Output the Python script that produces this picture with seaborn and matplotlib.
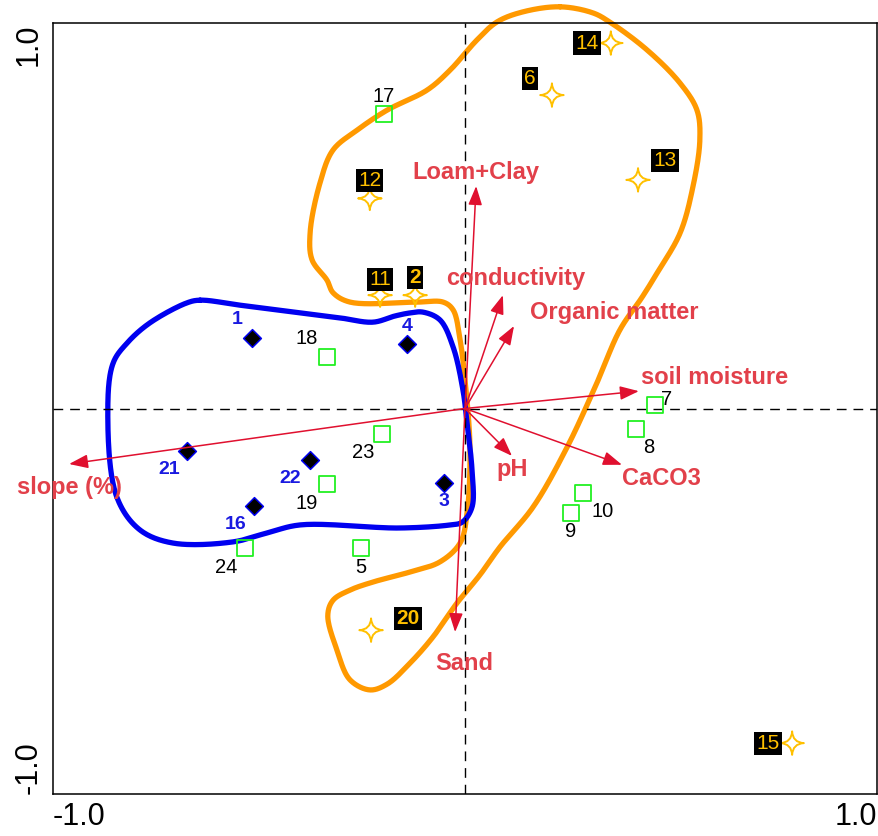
import numpy as np
import pandas as pd
import matplotlib
matplotlib.use("Agg")
import matplotlib.pyplot as plt
from matplotlib.path import Path
import seaborn as sns

# ---- site scores on ordination axes 1 and 2 ----
group_a_ids = ["1", "4", "21", "22", "16", "3"]
group_a_x = [-0.517, -0.141, -0.675, -0.376, -0.512, -0.051]
group_a_y = [0.183, 0.167, -0.110, -0.134, -0.253, -0.193]

group_b_ids = ["17", "18", "23", "19", "5", "24", "7", "8", "10", "9"]
group_b_x = [-0.197, -0.335, -0.201, -0.335, -0.252, -0.534, 0.461, 0.415, 0.286, 0.257]
group_b_y = [0.764, 0.134, -0.066, -0.196, -0.362, -0.362, 0.009, -0.053, -0.219, -0.271]

group_c_ids = ["14", "6", "13", "12", "11", "2", "20", "15"]
group_c_x = [0.354, 0.211, 0.420, -0.231, -0.206, -0.121, -0.228, 0.794]
group_c_y = [0.948, 0.813, 0.593, 0.545, 0.294, 0.294, -0.575, -0.868]

# ---- environmental variable vectors ----
env_names = ["Loam+Clay", "conductivity", "Organic matter", "soil moisture",
             "CaCO3", "pH", "Sand", "slope (%)"]
env_x = [0.027, 0.092, 0.119, 0.422, 0.381, 0.114, -0.024, -0.961]
env_y = [0.577, 0.294, 0.214, 0.045, -0.146, -0.123, -0.580, -0.144]

# ---- hand-drawn group envelopes (vertices in axis units) ----
env_a_x = [-0.643, -0.546, -0.400, -0.303, -0.223, -0.170, -0.133, -0.102, -0.061, -0.029,
           -0.005, 0.005, 0.017, 0.017, -0.007, -0.036, -0.158, -0.400, -0.481, -0.563,
           -0.709, -0.789, -0.845, -0.867, -0.854, -0.820, -0.765, -0.675]
env_a_y = [0.281, 0.268, 0.248, 0.235, 0.224, 0.240, 0.248, 0.250, 0.230, 0.160,
           0.048, -0.038, -0.160, -0.256, -0.295, -0.302, -0.310, -0.302, -0.323, -0.346,
           -0.349, -0.315, -0.230, -0.012, 0.118, 0.170, 0.222, 0.274]

env_c_x = [0.231, 0.311, 0.352, 0.442, 0.522, 0.563, 0.570, 0.553, 0.522, 0.466,
           0.430, 0.376, 0.320, 0.248, 0.165, 0.085, 0.036, -0.019, -0.078, -0.133,
           -0.189, -0.231, -0.279, -0.311, -0.333, -0.320, -0.279, -0.223, -0.133, -0.061,
           -0.012, 0.005, 0.012, 0.000, -0.012, -0.029, -0.053, -0.117, -0.279, -0.320,
           -0.335, -0.371, -0.376, -0.352, -0.320, -0.262, -0.189, -0.092, -0.036, 0.029,
           0.078, 0.141]
env_c_y = [1.042, 1.026, 1.002, 0.930, 0.844, 0.774, 0.697, 0.574, 0.455, 0.351,
           0.289, 0.204, 0.066, -0.100, -0.256, -0.359, -0.432, -0.504, -0.593, -0.660,
           -0.715, -0.730, -0.704, -0.626, -0.536, -0.497, -0.471, -0.450, -0.424, -0.398,
           -0.349, -0.271, -0.100, 0.074, 0.178, 0.256, 0.276, 0.276, 0.276, 0.300,
           0.333, 0.385, 0.455, 0.585, 0.671, 0.722, 0.774, 0.826, 0.878, 0.956,
           1.003, 1.029]

# label offsets in pixels (right, up)
a_offsets = {"1": (-15, 18), "4": (0, 18), "21": (-18, -19), "22": (-20, -18),
             "16": (-18, -18), "3": (0, -19)}
b_offsets = {"17": (0, 17), "18": (-20, 18), "23": (-19, -19), "19": (-20, -19),
             "5": (0, -19), "24": (-19, -19), "7": (12, 6), "8": (13, -19),
             "10": (20, -19), "9": (0, -19)}
c_offsets = {"14": (-24, 0), "6": (-22, 17), "13": (27, 19), "12": (0, 18),
             "11": (0, 16), "2": (0, 18), "20": (37, 12), "15": (-24, 0)}
c_bold = {"2", "20"}
env_label_pos = {"Loam+Clay": ("center", 0, 14), "conductivity": ("center", 13, 17),
                 "Organic matter": ("left", 16, 14), "soil moisture": ("left", 2, 14),
                 "CaCO3": ("left", 0, -14), "pH": ("center", 0, -14),
                 "Sand": ("center", 9, -31), "slope (%)": ("center", 0, -23)}

RED = "#E0102F"
RED_TXT = "#E2404A"
BLUE = "#0000F0"
BLUE_TXT = "#1A1AE0"
ORANGE = "#FF9900"
GOLD = "#FFC000"
GREEN = "#22F022"


def closed_spline(xs, ys, n=24):
    """Centripetal Catmull-Rom curve through a closed ring of vertices."""
    P = np.column_stack([xs, ys]).astype(float)
    m = len(P)
    pts = []
    for i in range(m):
        p0, p1, p2, p3 = P[i - 1], P[i], P[(i + 1) % m], P[(i + 2) % m]
        t0 = 0.0
        t1 = t0 + np.linalg.norm(p1 - p0) ** 0.5
        t2 = t1 + np.linalg.norm(p2 - p1) ** 0.5
        t3 = t2 + np.linalg.norm(p3 - p2) ** 0.5
        t = np.linspace(t1, t2, n, endpoint=False)[:, None]
        a1 = (t1 - t) / (t1 - t0) * p0 + (t - t0) / (t1 - t0) * p1
        a2 = (t2 - t) / (t2 - t1) * p1 + (t - t1) / (t2 - t1) * p2
        a3 = (t3 - t) / (t3 - t2) * p2 + (t - t2) / (t3 - t2) * p3
        b1 = (t2 - t) / (t2 - t0) * a1 + (t - t0) / (t2 - t0) * a2
        b2 = (t3 - t) / (t3 - t1) * a2 + (t - t1) / (t3 - t1) * a3
        c = (t2 - t) / (t2 - t1) * b1 + (t - t1) / (t2 - t1) * b2
        pts.append(c)
    pts = np.vstack(pts)
    pts = np.vstack([pts, pts[:1]])
    return pts[:, 0], pts[:, 1]


# four-pointed star with concave sides
_c = 0.05
star_path = Path(
    [(0, 1), (_c, _c), (1, 0), (_c, -_c), (0, -1), (-_c, -_c), (-1, 0), (-_c, _c), (0, 1), (0, 1)],
    [Path.MOVETO, Path.CURVE3, Path.CURVE3, Path.CURVE3, Path.CURVE3,
     Path.CURVE3, Path.CURVE3, Path.CURVE3, Path.CURVE3, Path.CLOSEPOLY],
)

sns.set_theme(style="white")
plt.rcParams["font.family"] = ["Liberation Sans", "DejaVu Sans"]

fig = plt.figure(figsize=(8.79, 8.36), dpi=100)
ax = fig.add_axes([53 / 879, 1 - 794 / 836, 824 / 879, 771 / 836])
ax.set_xlim(-1, 1)
ax.set_ylim(-1, 1)

# envelopes
ox, oy = closed_spline(env_c_x, env_c_y)
sns.lineplot(x=ox, y=oy, sort=False, estimator=None, color=ORANGE, lw=3.8,
             clip_on=False, ax=ax, zorder=2)
bx, by = closed_spline(env_a_x, env_a_y)
sns.lineplot(x=bx, y=by, sort=False, estimator=None, color=BLUE, lw=3.8,
             ax=ax, zorder=2.5)

# zero lines
ax.axhline(0, color="black", lw=1.0, ls=(0, (7, 5)), zorder=3)
ax.axvline(0, color="black", lw=1.0, ls=(0, (7, 5)), zorder=3)

# sites
df_a = pd.DataFrame({"x": group_a_x, "y": group_a_y, "id": group_a_ids})
df_b = pd.DataFrame({"x": group_b_x, "y": group_b_y, "id": group_b_ids})
df_c = pd.DataFrame({"x": group_c_x, "y": group_c_y, "id": group_c_ids})

sns.scatterplot(data=df_b, x="x", y="y", marker="s", s=135, facecolors="none",
                edgecolor=GREEN, linewidth=1.3, ax=ax, zorder=4)
sns.scatterplot(data=df_a, x="x", y="y", marker="D", s=82, color="black",
                edgecolor=BLUE, linewidth=1.1, ax=ax, zorder=4)
sns.scatterplot(data=df_c, x="x", y="y", marker=star_path, s=285, facecolors="none",
                edgecolor=GOLD, linewidth=1.4, ax=ax, zorder=4)

for _, r in df_a.iterrows():
    dx, dy = a_offsets[r["id"]]
    ax.annotate(r["id"], (r["x"], r["y"]), xytext=(dx, dy), textcoords="offset pixels",
                ha="center", va="center", fontsize=14, fontweight="bold",
                color=BLUE_TXT, zorder=6)
for _, r in df_b.iterrows():
    dx, dy = b_offsets[r["id"]]
    ax.annotate(r["id"], (r["x"], r["y"]), xytext=(dx, dy), textcoords="offset pixels",
                ha="center", va="center", fontsize=14.5, color="black", zorder=6)
for _, r in df_c.iterrows():
    dx, dy = c_offsets[r["id"]]
    ax.annotate(r["id"], (r["x"], r["y"]), xytext=(dx, dy), textcoords="offset pixels",
                ha="center", va="center", fontsize=15, color=GOLD,
                fontweight="bold" if r["id"] in c_bold else "normal",
                bbox=dict(boxstyle="square,pad=0.1", fc="black", ec="none"),
                annotation_clip=False, zorder=6)

# environmental arrows
for name, ex, ey in zip(env_names, env_x, env_y):
    ax.annotate("", xy=(ex, ey), xytext=(0, 0),
                arrowprops=dict(arrowstyle="-|>,head_length=1.15,head_width=0.42",
                                mutation_scale=10, color=RED, lw=1.1,
                                shrinkA=0, shrinkB=0),
                zorder=5)
    ha, dx, dy = env_label_pos[name]
    ax.annotate(name, (ex, ey), xytext=(dx, dy), textcoords="offset pixels",
                ha=ha, va="center", fontsize=17, fontweight="bold",
                color=RED_TXT, zorder=6)

# axes frame and ticks
for sp in ax.spines.values():
    sp.set_color("black")
    sp.set_linewidth(1.1)
ticks = [-1.0, -0.5, 0.0, 0.5, 1.0]
ax.set_xticks(ticks)
ax.set_yticks(ticks)
ax.set_xticklabels(["-1.0", "", "", "", "1.0"])
ax.set_yticklabels(["-1.0", "", "", "", "1.0"])
ax.tick_params(direction="out", length=3.6, width=1.0, color="black",
               labelsize=22, labelcolor="black")
ax.tick_params(axis="x", pad=2)
ax.tick_params(axis="y", pad=3, labelrotation=90)
xl = ax.get_xticklabels()
xl[0].set_ha("left")
xl[-1].set_ha("right")
yl = ax.get_yticklabels()
yl[0].set_va("bottom")
yl[-1].set_va("top")
ax.set_xlabel("")
ax.set_ylabel("")

fig.savefig("out.png", dpi=100)
